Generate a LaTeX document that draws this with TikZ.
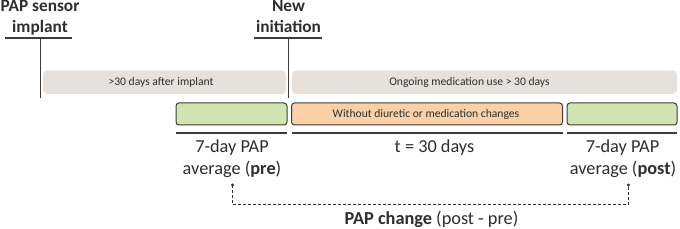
\documentclass[tikz,border=0pt]{standalone}
\usepackage{fontspec}
\setmainfont{Carlito}
\definecolor{txt}{HTML}{2E2E2E}
\definecolor{barbg}{HTML}{E8E0DA}
\definecolor{greenbg}{HTML}{D1E5B3}
\definecolor{orangebg}{HTML}{FAD0A7}
\definecolor{edge}{HTML}{3C3C3C}
\begin{document}
\begin{tikzpicture}[x=1pt,y=-1pt,
  title/.style={font=\fontsize{17.3}{20}\selectfont\bfseries, text=txt, inner sep=0pt, anchor=base},
  lab/.style={font=\fontsize{18.3}{22}\selectfont, text=txt, inner sep=0pt, anchor=base},
  small/.style={font=\fontsize{11.6}{14}\selectfont, text=txt, inner sep=0pt, anchor=base},
  bar/.style={fill=barbg, rounded corners=4pt},
  box/.style={draw=edge, line width=1pt, rounded corners=3pt},
  rule/.style={draw=edge, line width=1.2pt},
  dashline/.style={draw=txt, line width=1pt, dash pattern=on 3pt off 2pt}
]
\useasboundingbox (0,0) rectangle (680,229);
% titles
\node[title] (t1) at (40,12) {PAP sensor};
\node[title] (t2) at (40,33) {implant};
\node[title] (n1) at (288.5,12) {New};
\node[title] (n2) at (288.5,33) {initiation};
\coordinate (u1a) at (5,38); \coordinate (u1b) at (72,38);
\coordinate (u2a) at (254,38); \coordinate (u2b) at (322,38);
\draw[rule] (u1a) -- (u1b);
\draw[rule] (u2a) -- (u2b);
\coordinate (v1) at (40.5,38); \coordinate (v1e) at (40.5,98);
\coordinate (v2) at (288.5,38); \coordinate (v2e) at (288.5,98);
\draw[rule] (v1) -- (v1e);
\draw[rule] (v2) -- (v2e);
% gray bars
\path[bar] (43,70.5) rectangle (286,94);
\node[small] (b1) at (161,85.8) {>30 days after implant};
\path[bar] (292,70.5) rectangle (677,94);
\node[small] (b2) at (469.5,85.8) {Ongoing medication use > 30 days};
% boxes
\draw[box, fill=greenbg] (176,103) rectangle (287,125);
\draw[box, fill=orangebg] (291.5,103) rectangle (562.5,125);
\node[small] (o1) at (426,117.5) {Without diuretic or medication changes};
\draw[box, fill=greenbg] (567,103) rectangle (677,125);
% rules under boxes
\draw[rule] (176,133) -- (287,133);
\draw[rule] (291.5,133) -- (562.5,133);
\draw[rule] (567,133) -- (677,133);
% labels
\node[lab] (p1) at (232,153) {7-day PAP};
\node[lab] (p2) at (232,175) {average (\textbf{pre})};
\node[lab] (m1) at (434.5,153) {t = 30 days};
\node[lab] (q1) at (622.5,153) {7-day PAP};
\node[lab] (q2) at (623,175) {average (\textbf{post})};
% dashed bracket
\coordinate (d1) at (232.5,185);
\coordinate (d2) at (628.5,185);
\coordinate (k1) at (232.5,204.3);
\coordinate (k2) at (628.5,204.3);
\fill[txt] (d1) circle (1.7pt);
\fill[txt] (d2) circle (1.7pt);
\draw[dashline] (d1) -- (k1) -- (k2) -- (d2);
\node[lab] (c) at (431.5,225) {\textbf{PAP change} (post - pre)};
\end{tikzpicture}
\end{document}
